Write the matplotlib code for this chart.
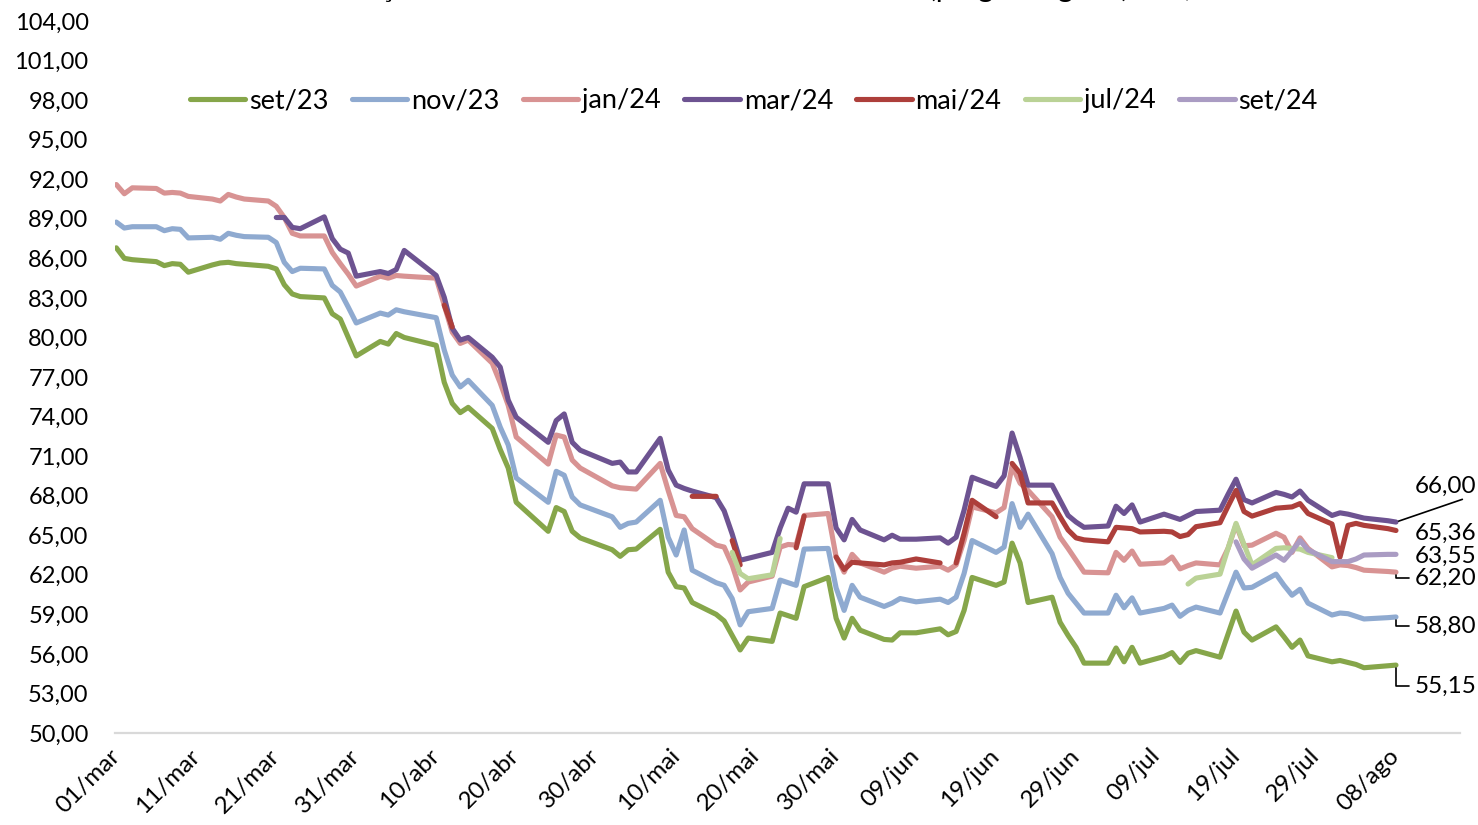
import numpy as np
import pandas as pd
import matplotlib
matplotlib.use("Agg")
import matplotlib.pyplot as plt

plt.rcParams["font.family"] = ["Lato", "DejaVu Sans"]

nan = np.nan

# trading days (B3), 01/mar to 08/ago 2023
holidays = ["2023-04-07", "2023-04-21", "2023-05-01", "2023-06-08"]
dates = pd.bdate_range("2023-03-01", "2023-08-08", freq="C", holidays=holidays)

# prices in R$/sc, one value per trading day (nan = no trade)
set23 = [
    86.8, 86.0, 85.9, 85.75, 85.45, 85.6, 85.55, 84.95, 85.5, 85.65,
    85.7, 85.6, 85.55, 85.4, 85.2, 84.0, 83.3, 83.1, 83.0, 81.8,
    81.4, 80.0, 78.6, 79.7, 79.5, 80.3, 80.0, 79.4, 76.6, 75.0,
    74.3, 74.7, 73.1, 71.5, 70.1, 67.5, 65.3, 67.1, 66.8, 65.3,
    64.8, 63.9, 63.4, 63.9, 63.95, 65.45, 62.2, 61.1, 61.0, 59.9,
    59.0, 58.5, 57.4, 56.3, 57.2, 56.95, 59.1, 58.9, 58.7, 61.1,
    61.8, 58.7, 57.2, 58.7, 57.8, 57.1, 57.05, 57.6, 57.6, 57.9,
    57.45, 57.7, 59.3, 61.8, 61.2, 61.45, 64.4, 62.9, 59.9, 60.3,
    58.4, 57.4, 56.5, 55.3, 55.3, 56.45, 55.4, 56.5, 55.3, 55.8,
    56.1, 55.35, 56.05, 56.25, 55.75, 57.5, 59.25, 57.65, 57.05, 58.05,
    57.3, 56.5, 57.05, 55.85, 55.4, 55.5, 55.35, 55.2, 54.95, 55.1,
    55.15,
]
nov23 = [
    88.75, 88.3, 88.4, 88.4, 88.1, 88.25, 88.2, 87.55, 87.6, 87.45,
    87.9, 87.75, 87.65, 87.6, 87.2, 85.7, 85.0, 85.25, 85.2, 83.95,
    83.45, 82.3, 81.1, 81.85, 81.7, 82.1, 81.95, 81.5, 79.05, 77.15,
    76.25, 76.75, 74.85, 73.2, 71.85, 69.35, 67.5, 69.85, 69.55, 67.9,
    67.3, 66.4, 65.6, 65.9, 66.0, 67.65, 64.85, 63.5, 65.4, 62.35,
    61.4, 61.2, 60.2, 58.2, 59.2, 59.45, 61.6, 61.4, 61.2, 63.95,
    64.0, 61.0, 59.3, 61.2, 60.3, 59.6, 59.85, 60.2, 59.95, 60.15,
    59.9, 60.3, 62.1, 64.6, 63.7, 64.1, 67.4, 65.6, 66.6, 63.6,
    61.8, 60.6, 59.85, 59.1, 59.1, 60.45, 59.5, 60.25, 59.1, 59.45,
    59.7, 58.85, 59.3, 59.55, 59.1, 60.65, 62.2, 61.0, 61.05, 62.05,
    61.2, 60.45, 60.9, 59.85, 58.95, 59.1, 59.05, 58.85, 58.65, 58.75,
    58.8,
]
jan24 = [
    91.6, 90.9, 91.35, 91.3, 90.95, 91.0, 90.95, 90.7, 90.5, 90.35,
    90.85, 90.65, 90.5, 90.35, 89.95, 89.1, 87.9, 87.7, 87.7, 86.45,
    85.6, 84.8, 83.9, 84.65, 84.5, 84.7, 84.65, 84.5, 82.45, 80.4,
    79.55, 79.8, 78.05, 76.55, 74.85, 72.45, 70.4, 72.6, 72.45, 70.7,
    70.1, 68.75, 68.6, 68.55, 68.5, 70.45, 68.4, 66.5, 66.4, 65.5,
    64.25, 64.1, 62.75, 60.85, 61.45, 61.9, 64.1, 64.3, 64.25, 66.5,
    66.65, 63.35, 62.2, 63.55, 62.9, 62.2, 62.5, 62.65, 62.5, 62.65,
    62.35, 62.75, 64.6, 67.15, 66.7, 67.1, 70.25, 68.95, 68.4, 66.4,
    64.85, 64.0, 63.1, 62.2, 62.15, 63.7, 63.1, 63.8, 62.8, 62.9,
    63.35, 62.45, 62.7, 62.9, 62.75, 64.0, 65.8, 64.2, 64.25, 65.15,
    64.85, 63.7, 64.8, 64.0, 62.6, 62.75, 62.7, 62.55, 62.35, 62.25,
    62.2,
]
mar24 = [nan] * 14 + [
    89.1, 89.1, 88.35, 88.25, 89.15, 87.5,
    86.7, 86.4, 84.65, 85.0, 84.85, 85.15, 86.6, 84.7, 83.05, 80.7,
    79.8, 80.0, 78.5, 77.75, 75.25, 73.95, 72.05, 73.7, 74.2, 72.05,
    71.45, 70.45, 70.55, 69.8, 69.8, 72.35, 69.95, 68.8, 68.55, 68.35,
    67.85, 66.85, 65.1, 63.1, 63.25, 63.7, 65.55, 67.05, 66.75, 68.9,
    68.9, 65.55, 64.65, 66.2, 65.4, 64.65, 65.0, 64.7, 64.7, 64.8,
    64.4, 64.85, 66.9, 69.4, 68.7, 69.5, 72.75, 70.9, 68.8, 68.8,
    67.65, 66.5, 66.0, 65.6, 65.7, 67.2, 66.65, 67.3, 66.0, 66.6,
    66.4, 66.2, 66.5, 66.8, 66.9, 68.1, 69.25, 67.7, 67.45, 68.25,
    68.1, 67.9, 68.35, 67.65, 66.5, 66.7, 66.6, 66.45, 66.3, 66.1,
    66.0,
]
mai24 = ([nan] * 28 + [82.45, 80.8] + [nan] * 19 + [67.95, 67.95] + [nan]
         + [64.6, 62.75] + [nan] * 4 + [64.05, 66.45] + [nan]
         + [63.35, 62.4, 62.95, 62.9, 62.75, 62.9, 62.95, 63.2, 62.9] + [nan]
         + [62.9, 65.15, 67.65, 66.4] + [nan]
         + [70.45, 69.7, 67.45, 67.45, 66.4, 65.4, 64.8, 64.65, 64.5, 65.6,
            65.55, 65.5, 65.25, 65.3, 65.25, 64.9, 65.05, 65.65, 65.95, 67.2,
            68.4, 66.8, 66.45, 67.05, 67.1, 67.15, 67.4, 66.65, 65.85, 63.35,
            65.75, 65.9, 65.75, 65.5, 65.36])
jul24 = ([nan] * 52 + [63.7, 62.1, 61.7, 62.0, 64.75] + [nan] * 35
         + [61.3, 61.75, 62.05, 64.0, 65.9, 64.3, 62.75, 64.0, 64.05, 64.0,
            63.95, 63.7, 63.3] + [nan] * 6)
set24 = [nan] * 96 + [64.5, 63.2, 62.5, 63.5, 63.1, 63.8, 64.6, 63.9, 63.0,
                      63.0, 63.0, 63.2, 63.5, 63.55, 63.55]

names = ["set/23", "nov/23", "jan/24", "mar/24", "mai/24", "jul/24", "set/24"]
series = [set23, nov23, jan24, mar24, mai24, jul24, set24]
colors = ["#86A64A", "#8FAAD0", "#D89393", "#6D5391", "#AD3F3B", "#BAD296", "#AA9CC3"]

months = ["jan", "fev", "mar", "abr", "mai", "jun", "jul", "ago", "set", "out", "nov", "dez"]
tick_dates = pd.date_range("2023-03-01", periods=17, freq="10D")
tick_labels = [f"{d.day:02d}/{months[d.month - 1]}" for d in tick_dates]
y_ticks = np.arange(50, 105, 3)


def br(v):
    return f"{v:.2f}".replace(".", ",")


fig = plt.figure(figsize=(14.78, 8.25), dpi=100)
ax = fig.add_axes([0.0778, 0.1115, 0.91, 0.863])

lines = []
for name, vals, c in zip(names, series, colors):
    ln, = ax.plot(dates, np.array(vals, dtype=float), color=c, lw=3.7,
                  solid_capstyle="round", solid_joinstyle="round", label=name)
    lines.append(ln)

ax.set_ylim(50, 104)
ax.set_yticks(y_ticks)
ax.set_yticklabels([br(v) for v in y_ticks], fontsize=17)
ax.set_xlim(dates[0] - pd.Timedelta(hours=4), pd.Timestamp("2023-08-16"))
ax.set_xticks(tick_dates)
ax.set_xticklabels(tick_labels, fontsize=17.5, rotation=45, ha="right",
                   va="center", rotation_mode="anchor")
ax.tick_params(axis="both", length=0)
ax.tick_params(axis="y", pad=19)
ax.tick_params(axis="x", pad=14)
for s in ["top", "right", "left"]:
    ax.spines[s].set_visible(False)
ax.spines["bottom"].set_color("#D9D9D9")
ax.spines["bottom"].set_linewidth(1.6)

# end-of-series value labels (offsets in pixels)
label_offsets = {"mar/24": 36, "mai/24": -3, "set/24": -2, "jan/24": -6,
                 "nov/23": -9, "set/23": -21}
for name, vals in zip(names, series):
    if name not in label_offsets:
        continue
    last = vals[-1]
    dy = label_offsets[name]
    if name == "mar/24":
        arrow = dict(arrowstyle="-", color="black", lw=1.2, shrinkA=0, shrinkB=2,
                     relpos=(0.95, 0.05))
    elif name in ("jan/24", "nov/23", "set/23"):
        arrow = dict(arrowstyle="-", color="black", lw=1.2, shrinkA=2, shrinkB=2,
                     relpos=(0, 0.5), connectionstyle="angle,angleA=0,angleB=90,rad=0")
    else:
        arrow = None
    ax.annotate(br(last), xy=(dates[-1], last), xytext=(19, dy),
                textcoords="offset pixels", ha="left", va="center",
                fontsize=17.5, arrowprops=arrow, annotation_clip=False)

fig.legend(handles=lines, loc="center", bbox_to_anchor=(0.51, 0.8776), ncol=7,
           frameon=False, fontsize=19.5, handlelength=2.05, handletextpad=0.15,
           columnspacing=0.85)

fig.text(0.475, 1.0 + 3 / 825, "Gráfico 1 – Cotações dos contratos futuros de milho na B3 "
         "(pregão regular) – R$/sc", ha="center", va="baseline", fontsize=21)

fig.savefig("out.png", dpi=100)
